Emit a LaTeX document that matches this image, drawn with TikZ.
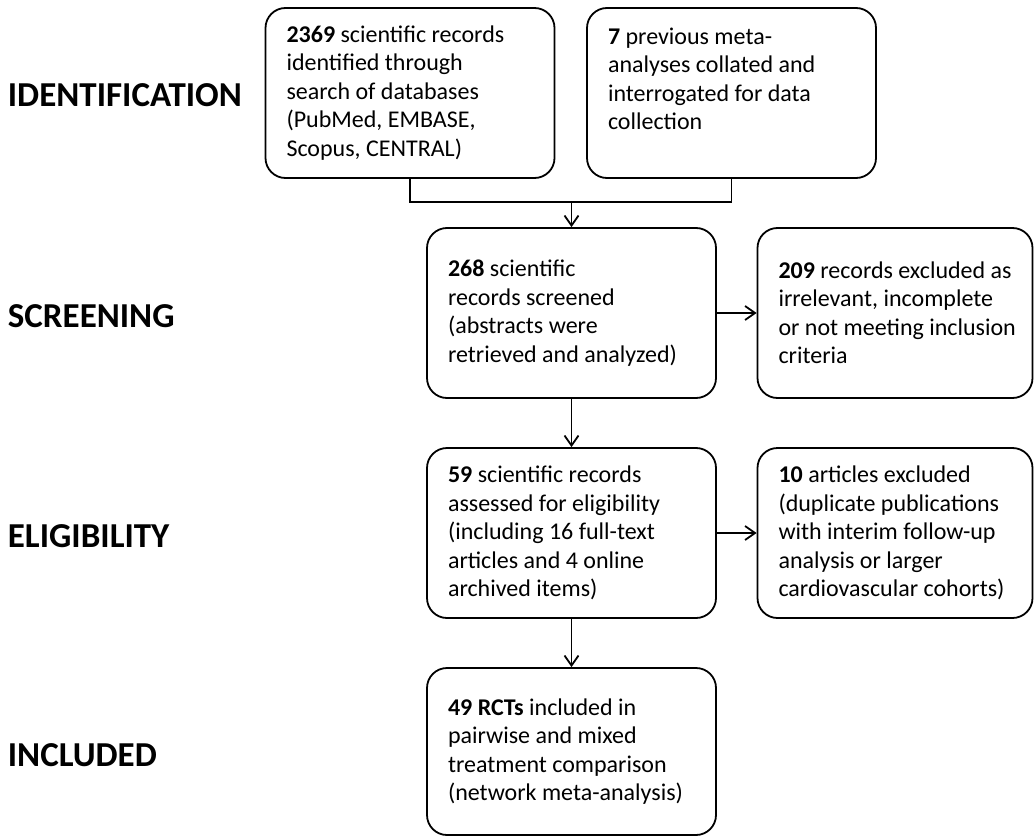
\documentclass[tikz,border=0pt]{standalone}
\usepackage{fontspec}
\setmainfont{Carlito}
\usetikzlibrary{arrows.meta}

\begin{document}
\begin{tikzpicture}
[x=1pt,y=-1pt,line width=1.8pt,
box/.style={draw,rounded corners=20pt,align=flush left,inner xsep=21pt,inner ysep=0pt,text width=247pt,minimum height=170pt,font=\fontsize{24}{28.5}\selectfont},
side/.style={text width=233pt},
stage/.style={anchor=base west,inner sep=0pt,font=\fontsize{35}{40}\selectfont\bfseries},
arr/.style={-{Straight Barb[length=10pt,width=14pt]}}]
\useasboundingbox (0,0) rectangle (1035,837);

\node[stage] (s1) at (7,107) {IDENTIFICATION};
\node[stage] (s2) at (7,327) {SCREENING};
\node[stage] (s3) at (7,547) {ELIGIBILITY};
\node[stage] (s4) at (7,766) {INCLUDED};

\node[box] (v1) at (410,93) {\textbf{2369} scientific records\\identified through\\search of databases\\(PubMed, EMBASE,\\Scopus, CENTRAL)};
\node[box] (v2) at (731.5,93) {\textbf{7} previous meta-\\analyses collated and\\interrogated for data\\collection\\\mbox{}};
\node[box] (v3) at (571.5,313) {\textbf{268} scientific\\records screened\\(abstracts were\\retrieved and analyzed)};
\node[box,side] (v4) at (895,313) {\textbf{209} records excluded as\\irrelevant, incomplete\\\makebox[\linewidth][l]{or not meeting inclusion}\\criteria};
\node[box] (v5) at (571.5,533) {\textbf{59} scientific records\\assessed for eligibility\\(including 16 full-text\\articles and 4 online\\archived items)};
\node[box,side] (v6) at (895,533) {\textbf{10} articles excluded\\(duplicate publications\\with interim follow-up\\analysis or larger\\cardiovascular cohorts)};
\node[box,minimum height=167pt] (v7) at (571.5,751.5) {\textbf{49 RCTs} included in\\pairwise and mixed\\treatment comparison\\(network meta-analysis)};

\coordinate (j) at (571.5,202);
\draw (v1.south) |- (j) -| (v2.south);
\draw[arr] (j) -- (v3.north);

\foreach \from/\to in {v3/v4,v3/v5,v5/v6,v5/v7}
\draw[arr] (\from) -- (\to);
\end{tikzpicture}
\end{document}
